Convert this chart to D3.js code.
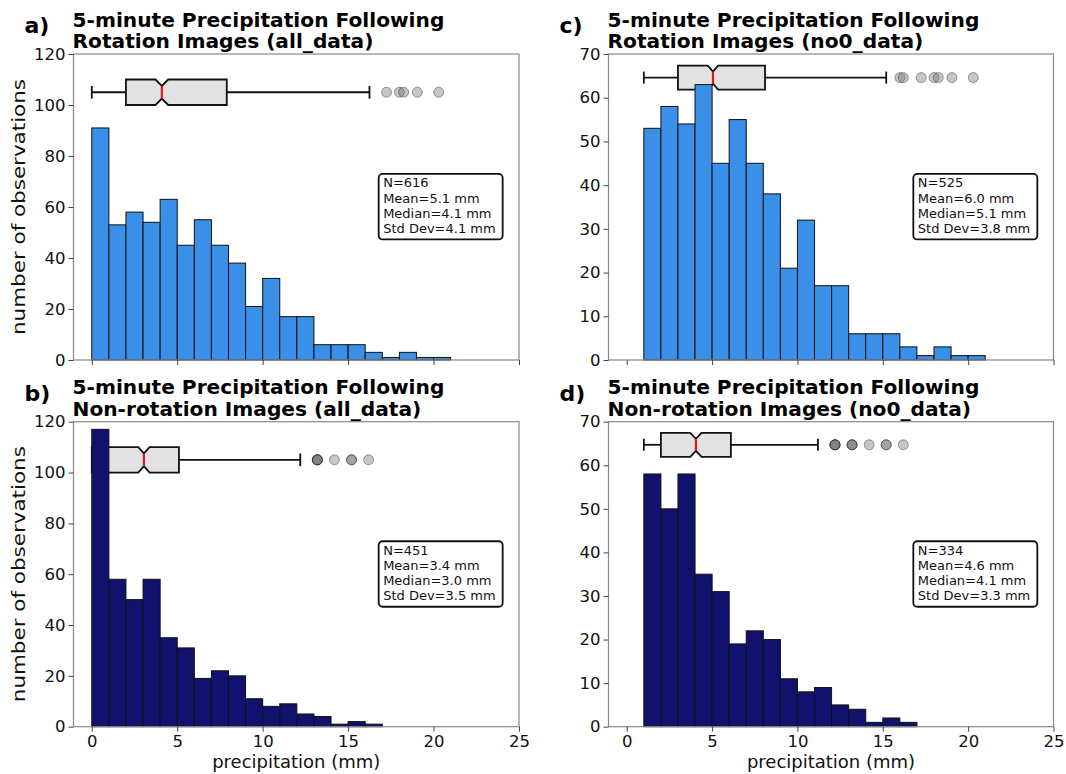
<!DOCTYPE html>
<html>
<head>
<meta charset="utf-8">
<script src="https://cdn.jsdelivr.net/npm/d3@7"></script>
<style>
  body { margin: 0; background: #fff; }
  svg { display: block; font-family: "DejaVu Sans", sans-serif; }
  .title { font-weight: bold; font-size: 18.6px; fill: #000; }
  .tag { font-weight: bold; font-size: 22px; fill: #000; }
  .tick text { font-family: "DejaVu Sans", sans-serif; font-size: 16.5px; fill: #111; }
  .lbl { font-size: 18px; fill: #111; }
  .stat { font-size: 13px; fill: #111; }
</style>
</head>
<body>
<svg width="1066" height="774"></svg>
<script>
// histogram bins (left edge, mm) and counts
var binsAll = [0,1,2,3,4,5,6,7,8,9,10,11,12,13,14,15,16,17,18,19,20];
var binsNo0 = [1,2,3,4,5,6,7,8,9,10,11,12,13,14,15,16,17,18,19,20];
var binsNonAll = [0,1,2,3,4,5,6,7,8,9,10,11,12,13,14,15,16];
var binsNonNo0 = [1,2,3,4,5,6,7,8,9,10,11,12,13,14,15,16];

var rotAll = [91,53,58,54,63,45,55,45,38,21,32,17,17,6,6,6,3,1,3,1,1];
var rotNo0 = [53,58,54,63,45,55,45,38,21,32,17,17,6,6,6,3,1,3,1,1];
var nonAll = [117,58,50,58,35,31,19,22,20,11,8,9,5,4,1,2,1];
var nonNo0 = [58,50,58,35,31,19,22,20,11,8,9,5,4,1,2,1];

// box plot stats: [whislo, q1, med, q3, whishi, notchLo, notchHi]
var boxRotAll = [0, 2.0, 4.1, 7.9, 16.25, 3.73, 4.47];
var boxRotNo0 = [1.0, 3.0, 5.05, 8.1, 15.2, 4.75, 5.35];
var boxNonAll = [0, 0, 3.05, 5.1, 12.2, 2.72, 3.38];
var boxNonNo0 = [1.0, 2.0, 4.05, 6.1, 11.2, 3.72, 4.38];

var outRotAll = [17.25, 18.0, 18.25, 19.05, 20.3];
var outRotNo0 = [16.0, 16.2, 17.25, 18.0, 18.25, 19.05, 20.3];
var outNonAll = [13.2, 13.2, 13.2, 13.2, 14.2, 15.2, 15.2, 16.2];
var outNonNo0 = [12.2, 12.2, 12.2, 12.2, 13.2, 13.2, 13.2, 14.2, 15.2, 15.2, 16.2];

var statsRotAll = ["N=616", "Mean=5.1 mm", "Median=4.1 mm", "Std Dev=4.1 mm"];
var statsRotNo0 = ["N=525", "Mean=6.0 mm", "Median=5.1 mm", "Std Dev=3.8 mm"];
var statsNonAll = ["N=451", "Mean=3.4 mm", "Median=3.0 mm", "Std Dev=3.5 mm"];
var statsNonNo0 = ["N=334", "Mean=4.6 mm", "Median=4.1 mm", "Std Dev=3.3 mm"];

var xTicks = [0,5,10,15,20,25];
var yTicks120 = [0,20,40,60,80,100,120];
var yTicks70 = [0,10,20,30,40,50,60,70];

var svg = d3.select("svg");

function panel(p) {
    var x = d3.scaleLinear().domain([-1.07, 25]).range([p.left, p.right]);
    var y = d3.scaleLinear().domain([0, p.ymax]).range([p.bottom, p.top]);
    var g = svg.append("g");

    // box plot (drawn under the bars)
    var b = p.box, c = p.boxPos, w = p.boxW;
    var yb = function(v) { return y(c + v * w); };
    g.append("line").attr("x1", x(b[0])).attr("x2", x(b[1]))
	.attr("y1", y(c)).attr("y2", y(c)).attr("stroke", "#111").attr("stroke-width", 1.8);
    g.append("line").attr("x1", x(b[3])).attr("x2", x(b[4]))
	.attr("y1", y(c)).attr("y2", y(c)).attr("stroke", "#111").attr("stroke-width", 1.8);
    [b[0], b[4]].forEach(function(v) {
	if (v === b[1]) return;
	g.append("line").attr("x1", x(v)).attr("x2", x(v))
	    .attr("y1", yb(-0.25)).attr("y2", yb(0.25)).attr("stroke", "#111").attr("stroke-width", 1.8);
    });
    var pts = [[b[1], -0.5], [b[5], -0.5], [b[2], -0.25], [b[6], -0.5], [b[3], -0.5],
	       [b[3], 0.5], [b[6], 0.5], [b[2], 0.25], [b[5], 0.5], [b[1], 0.5]];
    g.append("path")
	.attr("d", d3.line().x(function(d) { return x(d[0]); }).y(function(d) { return yb(d[1]); })(pts) + "Z")
	.attr("fill", "#e2e2e2").attr("stroke", "#111").attr("stroke-width", 1.8);
    g.append("line").attr("x1", x(b[2])).attr("x2", x(b[2]))
	.attr("y1", yb(-0.25)).attr("y2", yb(0.25)).attr("stroke", "#e8141c").attr("stroke-width", 2.2);
    g.selectAll(".flier").data(p.out).enter().append("circle")
	.attr("cx", function(d) { return x(d); }).attr("cy", y(c)).attr("r", 5)
	.attr("fill", "#707070").attr("fill-opacity", 0.4)
	.attr("stroke", "#000").attr("stroke-opacity", 0.35).attr("stroke-width", 1);

    // histogram bars
    g.selectAll(".bar").data(p.counts).enter().append("rect")
	.attr("x", function(d, i) { return x(p.bins[i]); })
	.attr("width", function(d, i) { return x(p.bins[i] + 1) - x(p.bins[i]); })
	.attr("y", function(d) { return y(d); })
	.attr("height", function(d) { return y(0) - y(d); })
	.attr("fill", p.color).attr("stroke", "#111").attr("stroke-width", 1);

    // axes frame
    g.append("rect").attr("x", p.left).attr("y", p.top)
	.attr("width", p.right - p.left).attr("height", p.bottom - p.top)
	.attr("fill", "none").attr("stroke", "#888").attr("stroke-width", 1.2);

    var ax = d3.axisBottom(x).tickValues(xTicks).tickSize(5).tickPadding(4);
    if (!p.xlabels) ax.tickFormat("");
    var gx = g.append("g").attr("transform", "translate(0," + p.bottom + ")").call(ax);
    var gy = g.append("g").attr("transform", "translate(" + p.left + ",0)")
	.call(d3.axisLeft(y).tickValues(p.yticks).tickSize(5).tickPadding(3));
    [gx, gy].forEach(function(a) {
	a.select(".domain").remove();
	a.selectAll(".tick line").attr("stroke", "#444");
    });

    // stats box
    var sx = p.left + 0.685 * (p.right - p.left), sy = p.top + 0.392 * (p.bottom - p.top);
    g.append("rect").attr("x", sx).attr("y", sy).attr("width", 124).attr("height", 65.5)
	.attr("rx", 4).attr("fill", "#fff").attr("stroke", "#111").attr("stroke-width", 1.8);
    g.selectAll(".stat").data(p.stats).enter().append("text").attr("class", "stat")
	.attr("x", sx + 4.5).attr("y", function(d, i) { return sy + 13.5 + i * 15.1; }).text(function(d) { return d; });

    // titles (narrower font widened horizontally so the two lines don't collide)
    g.append("text").attr("class", "tag").attr("x", p.left - 49).attr("y", p.top - 21).text(p.tag);
    var tx = p.left - 1;
    g.append("text").attr("class", "title")
	.attr("transform", "translate(" + tx + "," + (p.top - 27.3) + ") scale(1.085,1)")
	.text(p.title[0]);
    g.append("text").attr("class", "title")
	.attr("transform", "translate(" + tx + "," + (p.top - 5.6) + ") scale(1.085,1)")
	.text(p.title[1]);

    if (p.ylabel) {
	g.append("text").attr("class", "lbl").attr("text-anchor", "middle")
	    .attr("textLength", 256).attr("lengthAdjust", "spacingAndGlyphs")
	    .attr("transform", "translate(25," + ((p.top + p.bottom) / 2) + ") rotate(-90)")
	    .text("number of observations");
    }
    if (p.xlabels) {
	g.append("text").attr("class", "lbl").attr("text-anchor", "middle")
	    .attr("x", (p.left + p.right) / 2).attr("y", 768).text("precipitation (mm)");
    }
}

panel({left: 73.5, right: 519, top: 54, bottom: 360, ymax: 120, yticks: yTicks120,
       bins: binsAll, counts: rotAll, color: "#3a8fe8", box: boxRotAll, boxPos: 105, boxW: 10,
       out: outRotAll, stats: statsRotAll, tag: "a)", ylabel: true, xlabels: false,
       title: ["5-minute Precipitation Following", "Rotation Images (all_data)"]});
panel({left: 608.5, right: 1053.5, top: 54, bottom: 360, ymax: 70, yticks: yTicks70,
       bins: binsNo0, counts: rotNo0, color: "#3a8fe8", box: boxRotNo0, boxPos: 64.6, boxW: 5.5,
       out: outRotNo0, stats: statsRotNo0, tag: "c)", ylabel: false, xlabels: false,
       title: ["5-minute Precipitation Following", "Rotation Images (no0_data)"]});
panel({left: 73.5, right: 519, top: 421.7, bottom: 726.7, ymax: 120, yticks: yTicks120,
       bins: binsNonAll, counts: nonAll, color: "#11116e", box: boxNonAll, boxPos: 105, boxW: 10,
       out: outNonAll, stats: statsNonAll, tag: "b)", ylabel: true, xlabels: true,
       title: ["5-minute Precipitation Following", "Non-rotation Images (all_data)"]});
panel({left: 608.5, right: 1053.5, top: 421.7, bottom: 726.7, ymax: 70, yticks: yTicks70,
       bins: binsNonNo0, counts: nonNo0, color: "#11116e", box: boxNonNo0, boxPos: 64.7, boxW: 5.5,
       out: outNonNo0, stats: statsNonNo0, tag: "d)", ylabel: false, xlabels: true,
       title: ["5-minute Precipitation Following", "Non-rotation Images (no0_data)"]});
</script>
</body>
</html>
